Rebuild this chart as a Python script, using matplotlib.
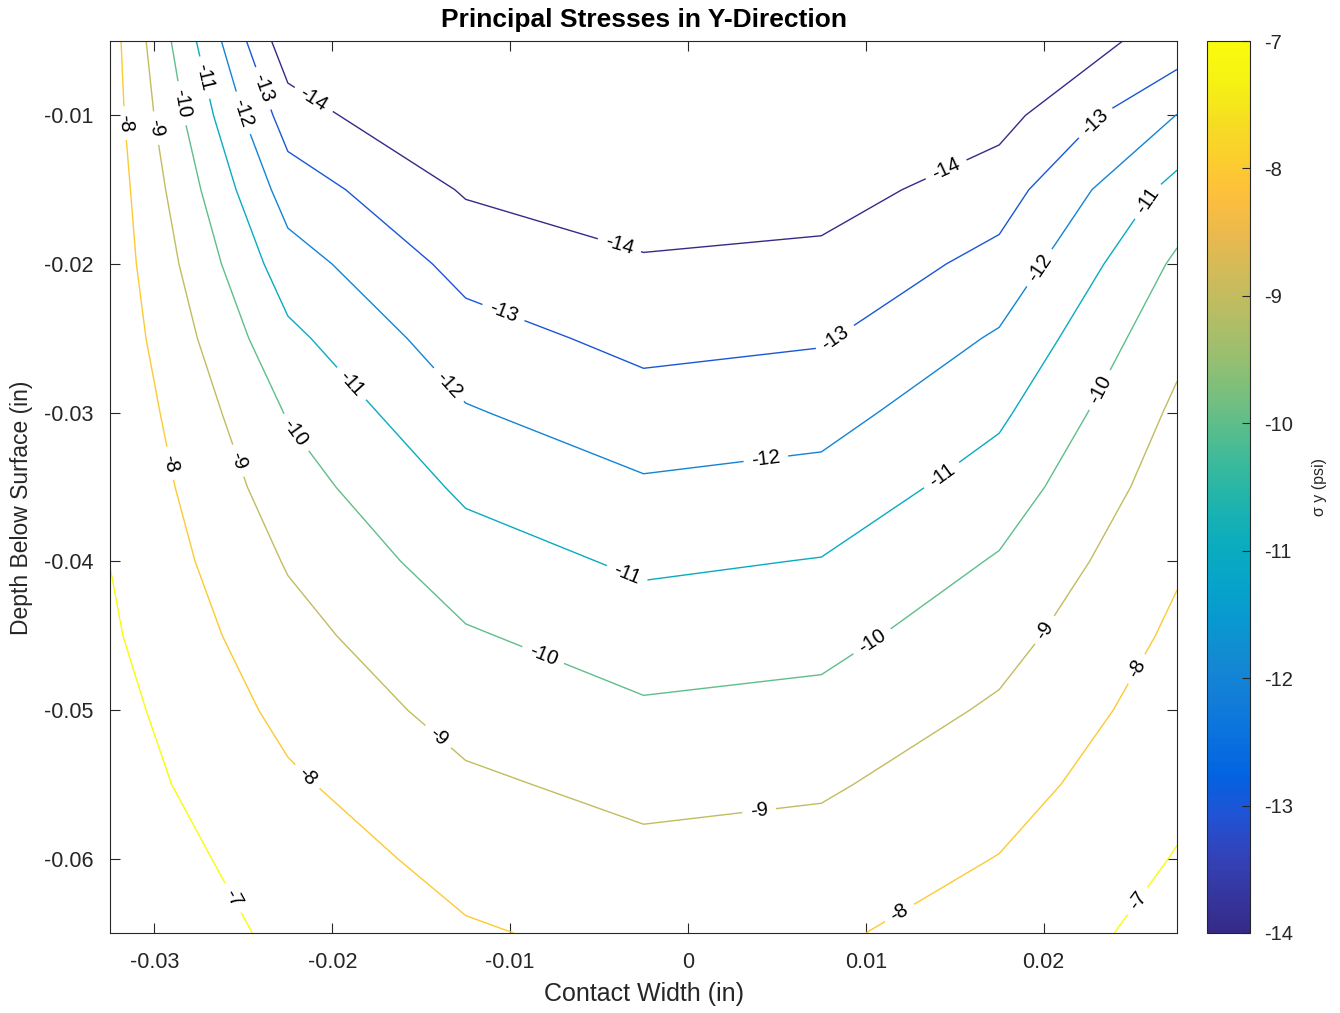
import numpy as np
import matplotlib
matplotlib.use("Agg")
import matplotlib.pyplot as plt
from matplotlib.colors import LinearSegmentedColormap, Normalize
import matplotlib.cm as cm

plt.rcParams['font.family'] = ['Liberation Sans', 'DejaVu Sans']
plt.rcParams['axes.unicode_minus'] = False

# grille du calcul (pouces)
contact_width = [-0.0325, -0.0225, -0.0125, -0.0025, 0.0075, 0.0175, 0.0275]
depth = [-0.005, -0.010, -0.015, -0.020, -0.025, -0.030, -0.035,
         -0.040, -0.045, -0.050, -0.055, -0.060, -0.065]

# sigma y (psi), une ligne par profondeur
sig_005 = [-7.56, -14.65, -15.60, -16.00, -15.80, -14.84, -13.63]
sig_010 = [-7.52, -13.50, -15.24, -15.60, -15.40, -14.35, -11.98]
sig_015 = [-7.42, -12.47, -14.10, -14.65, -14.44, -13.47, -10.65]
sig_020 = [-7.38, -11.56, -13.33, -13.88, -13.73, -12.69, -9.82]
sig_025 = [-7.30, -10.76, -12.61, -13.27, -13.09, -11.88, -9.26]
sig_030 = [-7.19, -10.07, -11.91, -12.60, -12.38, -11.18, -8.81]
sig_035 = [-7.10, -9.56, -11.19, -11.87, -11.66, -10.53, -8.46]
sig_040 = [-7.01, -9.08, -10.53, -11.17, -10.96, -9.91, -8.12]
sig_045 = [-6.87, -8.66, -9.90, -10.51, -10.32, -9.37, -7.81]
sig_050 = [-6.68, -8.26, -9.36, -9.875, -9.71, -8.86, -7.52]
sig_055 = [-6.55, -7.85, -8.83, -9.29, -9.13, -8.41, -7.23]
sig_060 = [-6.44, -7.42, -8.36, -8.75, -8.62, -7.97, -6.95]
sig_065 = [-6.40, -7.15, -7.89, -8.30, -8.15, -7.55, -6.70]

levels = [-14, -13, -12, -11, -10, -9, -8, -7]

# positions approximatives des etiquettes (x, y)
label_pos = [
    (-0.03185, -0.01054), (-0.02933, -0.03345), (-0.02146, -0.05454), (0.02506, -0.04713), (0.01185, -0.06357),
    (-0.0300, -0.01088), (-0.02551, -0.03332), (-0.01404, -0.05178), (0.00399, -0.0567), (0.0200, -0.04457),
    (-0.02848, -0.00919), (-0.0223, -0.03156), (-0.0082, -0.04646), (0.01028, -0.04524), (0.02303, -0.0284),
    (-0.02736, -0.00751), (-0.01893, -0.02806), (-0.00348, -0.0410), (0.01421, -0.03412), (0.02562, -0.01559),
    (-0.02511, -0.00987), (-0.01371, -0.0284), (0.00438, -0.03311), (0.01983, -0.02031),
    (-0.02388, -0.00818), (-0.01051, -0.02368), (0.00831, -0.02503), (0.02337, -0.01101),
    (-0.02118, -0.00919), (-0.00388, -0.01883), (0.01449, -0.01357),
    (-0.02528, -0.06243), (0.02517, -0.06276),
]

# quelques points de la palette parula de matlab
parula_pts = [
    (0.2081, 0.1663, 0.5292), (0.2123, 0.2138, 0.6270), (0.1959, 0.2645, 0.7279),
    (0.1253, 0.3242, 0.8303), (0.0117, 0.3875, 0.8820), (0.0329, 0.4430, 0.8720),
    (0.0723, 0.4887, 0.8467), (0.0749, 0.5375, 0.8263), (0.0343, 0.5966, 0.8199),
    (0.0231, 0.6418, 0.7913), (0.0384, 0.6743, 0.7436), (0.1133, 0.7015, 0.6859),
    (0.2178, 0.7250, 0.6193), (0.3482, 0.7424, 0.5473), (0.4871, 0.7491, 0.4840),
    (0.6099, 0.7473, 0.4337), (0.7184, 0.7411, 0.3905), (0.8185, 0.7327, 0.3498),
    (0.9139, 0.7258, 0.3063), (0.9938, 0.7455, 0.2403), (0.9880, 0.8066, 0.1794),
    (0.9626, 0.8705, 0.1309), (0.9661, 0.9514, 0.0755), (0.9763, 0.9831, 0.0538),
]
parula = LinearSegmentedColormap.from_list("parula", parula_pts)

Z = np.array([sig_005, sig_010, sig_015, sig_020, sig_025, sig_030, sig_035,
              sig_040, sig_045, sig_050, sig_055, sig_060, sig_065])
X, Y = np.meshgrid(contact_width, depth)

fig = plt.figure(figsize=(13.4, 10.13), dpi=100)
ax = fig.add_axes([0.0821, 0.079, 0.7963, 0.8805])
norm = Normalize(vmin=-14, vmax=-7)

cs = ax.contour(X, Y, Z, levels=levels, cmap=parula, norm=norm, linewidths=1.0)
ax.clabel(cs, manual=label_pos, fmt='%d', fontsize=14.5, colors='k',
          inline=True, inline_spacing=8)

ax.set_xlim(-0.0325, 0.0275)
ax.set_ylim(-0.065, -0.005)
ax.set_xticks([-0.03, -0.02, -0.01, 0, 0.01, 0.02])
ax.set_xticklabels(['-0.03', '-0.02', '-0.01', '0', '0.01', '0.02'])
ax.set_yticks([-0.06, -0.05, -0.04, -0.03, -0.02, -0.01])
ax.set_yticklabels(['-0.06', '-0.05', '-0.04', '-0.03', '-0.02', '-0.01'])
ax.tick_params(direction='in', top=True, right=True, length=7, width=0.8,
               labelsize=15.5, colors='#262626')
ax.tick_params(axis='x', pad=14)
ax.tick_params(axis='y', pad=12)
for sp in ax.spines.values():
    sp.set_color('#262626')
    sp.set_linewidth(0.8)

ax.set_title('Principal Stresses in Y-Direction', fontsize=19, fontweight='bold', pad=10)
ax.set_xlabel('Contact Width (in)', fontsize=18, color='#262626', labelpad=6)
ax.set_ylabel('Depth Below Surface (in)', fontsize=16.5, color='#262626')
ax.yaxis.set_label_coords(-0.072, 0.477)

cax = fig.add_axes([0.9007, 0.079, 0.0321, 0.8805])
sm = cm.ScalarMappable(norm=norm, cmap=parula)
cb = fig.colorbar(sm, cax=cax, ticks=levels)
cb.outline.set_edgecolor('#262626')
cb.outline.set_linewidth(0.8)
cax.tick_params(direction='in', length=6, width=0.8, labelsize=14.5, colors='#262626', pad=10)
cb.set_label('σ y (psi)', fontsize=11.5, color='#262626', rotation=90, labelpad=14)

fig.savefig('out.png', dpi=100, facecolor='white')
